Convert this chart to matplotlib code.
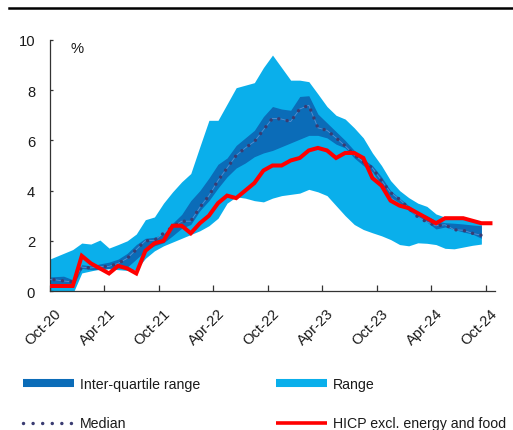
import matplotlib
matplotlib.use('Agg')
import matplotlib.pyplot as plt
import numpy as np
import pandas as pd
from matplotlib.lines import Line2D
from matplotlib.transforms import ScaledTranslation

plt.rcParams['font.family'] = ['Liberation Sans', 'DejaVu Sans']

# ---------------- data ----------------
# monthly observations, Sep-20 .. Oct-24 (Sep-20 lies just left of the axis start)
months = pd.date_range('2020-09-01', '2024-10-01', freq='MS').strftime('%b-%y').tolist()

# HICP excl. energy and food (Sep-20 .. Oct-24)
hicp_core = [0.2, 0.2, 0.2, 0.2,
             1.4, 1.1, 0.9, 0.7, 1.0, 0.9, 0.7, 1.6, 1.9, 2.0, 2.6, 2.6,
             2.3, 2.7, 3.0, 3.5, 3.8, 3.7, 4.0, 4.3, 4.8, 5.0, 5.0, 5.2,
             5.3, 5.6, 5.7, 5.6, 5.3, 5.5, 5.5, 5.3, 4.5, 4.2, 3.6, 3.4,
             3.3, 3.1, 2.9, 2.7, 2.9, 2.9, 2.9, 2.8, 2.7, 2.7]

# cross-country distribution (Sep-20 .. Sep-24)
range_hi = [1.2, 1.35, 1.5, 1.65, 1.91, 1.87, 2.03, 1.71, 1.85, 2.0, 2.27, 2.84, 2.95,
            3.5, 3.95, 4.35, 4.68, 5.75, 6.8, 6.8, 7.45, 8.1, 8.2, 8.3, 8.9, 9.4,
            8.9, 8.4, 8.4, 8.34, 7.85, 7.35, 7.0, 6.85, 6.5, 6.1, 5.5, 5.0, 4.4,
            4.0, 3.72, 3.5, 3.37, 3.07, 2.94, 2.9, 2.85, 2.8, 2.76]
range_lo = [0.0, -0.05, -0.1, -0.12, 0.72, 0.8, 0.88, 0.88, 0.85, 0.82, 0.85, 1.3, 1.6,
            1.8, 1.95, 2.1, 2.25, 2.4, 2.6, 2.9, 3.5, 3.75, 3.7, 3.6, 3.55, 3.7,
            3.8, 3.85, 3.9, 4.05, 3.95, 3.8, 3.4, 3.0, 2.65, 2.45, 2.32, 2.2, 2.05,
            1.85, 1.8, 1.92, 1.9, 1.85, 1.7, 1.68, 1.75, 1.82, 1.87]
iqr_hi = [0.55, 0.57, 0.59, 0.45, 1.05, 1.0, 1.08, 1.15, 1.27, 1.5, 1.85, 2.1, 2.14,
          2.27, 2.7, 3.05, 3.6, 4.0, 4.5, 5.05, 5.3, 5.8, 6.1, 6.4, 6.95, 7.35,
          7.25, 7.2, 7.75, 7.78, 7.05, 6.7, 6.35, 6.0, 5.6, 5.25, 5.0, 4.55, 4.0,
          3.7, 3.4, 3.15, 3.0, 2.8, 2.72, 2.7, 2.67, 2.63, 2.6]
iqr_lo = [0.28, 0.28, 0.27, 0.15, 0.9, 0.85, 0.85, 0.9, 0.92, 0.95, 1.27, 1.6, 1.8,
          1.92, 2.2, 2.5, 2.65, 3.2, 3.6, 4.1, 4.55, 4.9, 5.1, 5.35, 5.5, 5.6,
          5.75, 5.9, 6.05, 6.2, 6.2, 6.1, 5.85, 5.7, 5.3, 5.0, 4.75, 4.2, 3.75,
          3.5, 3.2, 2.95, 2.75, 2.47, 2.55, 2.45, 2.35, 2.27, 2.1]
median = [0.45, 0.45, 0.4, 0.36, 0.95, 0.92, 0.97, 0.98, 1.1, 1.3, 1.65, 2.0, 2.02,
          2.3, 2.55, 2.78, 2.78, 3.33, 3.8, 4.4, 4.9, 5.4, 5.7, 5.95, 6.42, 6.88,
          6.85, 6.75, 7.25, 7.4, 6.5, 6.4, 6.1, 5.78, 5.42, 5.15, 4.9, 4.4, 3.92,
          3.65, 3.3, 2.95, 2.75, 2.6, 2.64, 2.44, 2.42, 2.3, 2.22]

tick_labels = ['Oct-20', 'Apr-21', 'Oct-21', 'Apr-22', 'Oct-22',
               'Apr-23', 'Oct-23', 'Apr-24', 'Oct-24']
y_ticks = [0, 2, 4, 6, 8, 10]

# ---------------- styling ----------------
C_RANGE = '#0AAFEB'
C_IQR = '#0B6CB8'
C_MED = '#3A3C72'
C_RED = '#FF0000'
C_TXT = '#1a1a1a'
FS = 10.6
FS_LEG = 10.2

W, H = 513, 431
fig = plt.figure(figsize=(W / 100, H / 100), dpi=100)
ax = fig.add_axes([50 / W, (H - 292) / H, (495 - 50) / W, 251 / H])

# month index: Oct-20 starts at 0, points sit mid-month
pos_all = np.arange(len(months)) - 0.5
n_band = len(median)
pos_band = pos_all[:n_band]

MED_STYLE = (0, (0.01, 2.45))
ax.fill_between(pos_band, range_lo, range_hi, color=C_RANGE, lw=0, zorder=1)
ax.fill_between(pos_band, iqr_lo, iqr_hi, color=C_IQR, lw=0, zorder=2)
ax.plot(pos_band, median, color='#5b8fd0', lw=0.6, zorder=3)
ax.plot(pos_band, median, color=C_MED, lw=2.5, linestyle=MED_STYLE,
        dash_capstyle='round', zorder=4)
ax.plot(pos_all, hicp_core, color=C_RED, lw=2.9, solid_joinstyle='miter', zorder=5)

ax.set_xlim(0, 49)
ax.set_ylim(0, 10)
ax.set_yticks(y_ticks)
ax.set_yticklabels([str(v) for v in y_ticks])
ax.set_xticks(np.arange(0, 49, 6))
ax.set_xticklabels(tick_labels)

for s in ['top', 'right']:
    ax.spines[s].set_visible(False)
for s in ['left', 'bottom']:
    ax.spines[s].set_color('#333333')
    ax.spines[s].set_linewidth(0.9)

ax.tick_params(axis='y', direction='in', length=2.5, width=0.9, color='#333333',
               pad=10.8, labelsize=FS, labelcolor=C_TXT)
ax.tick_params(axis='x', direction='in', length=4, width=0.9, color='#333333',
               pad=10.5, labelsize=FS, labelcolor=C_TXT)
offset = ScaledTranslation(0.04, 0, fig.dpi_scale_trans)
for lab in ax.get_xticklabels():
    lab.set_rotation(45)
    lab.set_ha('right')
    lab.set_va('top')
    lab.set_rotation_mode('anchor')
    lab.set_transform(lab.get_transform() + offset)

ax.text(0.045, 0.995, '%', transform=ax.transAxes, ha='left', va='top',
        fontsize=FS, color=C_TXT)

# top rule
fig.add_artist(Line2D([9 / W, 1.0], [1 - 8.5 / H] * 2, transform=fig.transFigure,
                      color='black', lw=1.8))

# legends
h_iqr = Line2D([], [], color=C_IQR, lw=5.8, solid_capstyle='butt')
h_med = Line2D([], [], color=C_MED, lw=2.5, linestyle=(0, (0.01, 2.75)),
               dash_capstyle='round')
h_rng = Line2D([], [], color=C_RANGE, lw=5.8, solid_capstyle='butt')
h_red = Line2D([], [], color=C_RED, lw=2.6, solid_capstyle='butt')

common = dict(loc='upper left', frameon=False, borderpad=0, borderaxespad=0,
              handlelength=3.6, handletextpad=0.4, labelspacing=1.8,
              fontsize=FS_LEG, labelcolor=C_TXT)
fig.legend([h_iqr, h_med], ['Inter-quartile range', 'Median'],
           bbox_to_anchor=(23 / W, 1 - 378 / H), **common)
fig.legend([h_rng, h_red], ['Range', 'HICP excl. energy and food'],
           bbox_to_anchor=(276 / W, 1 - 378 / H), **common)

fig.savefig('out.png', dpi=100)
